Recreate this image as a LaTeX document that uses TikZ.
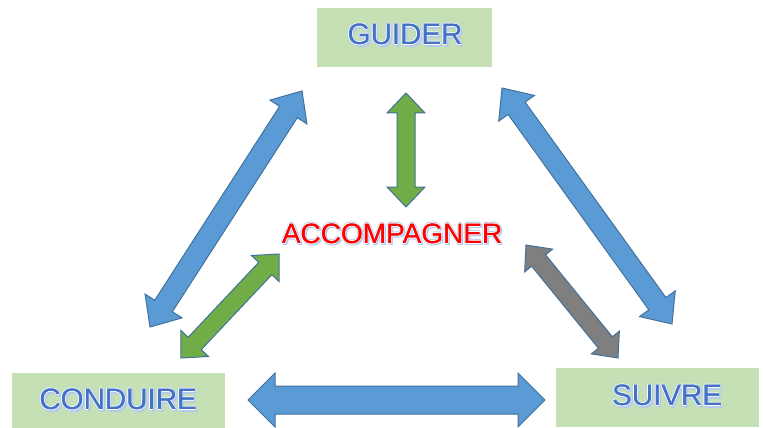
\documentclass[tikz,border=0pt]{standalone}
\usepackage{fontspec}
\setmainfont{Liberation Sans}
\usetikzlibrary{calc}

\definecolor{boxgreen}{HTML}{C5E0B4}
\definecolor{arrowblue}{HTML}{5B9BD5}
\definecolor{arrowgreen}{HTML}{70AD47}
\definecolor{arrowgray}{HTML}{7F7F7F}
\definecolor{edgeblue}{HTML}{41719C}
\definecolor{wordblue}{HTML}{4472C4}
\definecolor{glowblue}{HTML}{B4CBEE}
\definecolor{wordred}{HTML}{FF0000}

% one shifted copy of a word, used to build the halo
\newcommand\wcopy[4]{\rlap{\kern#1\raisebox{#2}{\color{#3}#4}}}

% Word art: soft blue halo, thin white rim, slightly heavy coloured letters
\newcommand\wordart[2]{\leavevmode
  \wcopy{2.2pt}{-2.2pt}{glowblue}{#2}%
  \wcopy{2pt}{0pt}{glowblue}{#2}%
  \wcopy{0pt}{-2pt}{glowblue}{#2}%
  \wcopy{-1.5pt}{0pt}{glowblue}{#2}%
  \wcopy{0pt}{1.5pt}{glowblue}{#2}%
  \wcopy{1pt}{0pt}{white}{#2}%
  \wcopy{-1pt}{0pt}{white}{#2}%
  \wcopy{0pt}{1pt}{white}{#2}%
  \wcopy{0pt}{-1pt}{white}{#2}%
  \wcopy{0.35pt}{0pt}{#1}{#2}%
  {\color{#1}#2}}

% Double-headed block arrow between two tips
% #1 style, #2 tip A, #3 tip B, #4 head length, #5 head half width, #6 shaft half width
\newcommand\blockarrow[6]{%
  \draw[#1] (#2)
    -- ($(#2)!#4!(#3)!#5!90:(#3)$)
    -- ($(#2)!#4!(#3)!#6!90:(#3)$)
    -- ($(#3)!#4!(#2)!#6!-90:(#2)$)
    -- ($(#3)!#4!(#2)!#5!-90:(#2)$)
    -- (#3)
    -- ($(#3)!#4!(#2)!#5!90:(#2)$)
    -- ($(#3)!#4!(#2)!#6!90:(#2)$)
    -- ($(#2)!#4!(#3)!#6!-90:(#3)$)
    -- ($(#2)!#4!(#3)!#5!-90:(#3)$)
    -- cycle;}

\tikzset{
  panel/.style={fill=boxgreen, draw=none, inner sep=0pt},
  bluetext/.style={inner sep=0pt, font=\fontsize{29.5}{29.5}\selectfont},
  redtext/.style={inner sep=0pt, font=\fontsize{28}{28}\selectfont},
  blockbase/.style={draw=edgeblue, line width=1pt, line join=miter},
  blueblock/.style={blockbase, fill=arrowblue},
  greenblock/.style={blockbase, fill=arrowgreen},
  grayblock/.style={blockbase, fill=arrowgray},
}

\begin{document}
\begin{tikzpicture}[x=1pt, y=-1pt]
\useasboundingbox (0,0) rectangle (764,428);

% panels
\path[panel] (317,8) rectangle (492,67);
\path[panel] (12,373) rectangle (225,428);
\path[panel] (556,368) rectangle (759,427);

% labels
\node[bluetext] (guider) at (405,35) {\wordart{wordblue}{GUIDER}};
\node[bluetext] (conduire) at (118,400) {\wordart{wordblue}{CONDUIRE}};
\node[bluetext] (suivre) at (667,396) {\wordart{wordblue}{SUIVRE}};
\node[redtext] (accomp) at (392,234) {\wordart{wordred}{ACCOMPAGNER}};

% arrow tips
\coordinate (lt) at (302,91);
\coordinate (lb) at (150,327);
\coordinate (rt) at (502,88);
\coordinate (rb) at (672,324);
\coordinate (hl) at (248,400);
\coordinate (hr) at (545,400);
\coordinate (vt) at (406,93);
\coordinate (vb) at (406,207);
\coordinate (gt) at (279,254);
\coordinate (gb) at (181,358);
\coordinate (kt) at (526,245);
\coordinate (kb) at (618,358);

% outer triangle of arrows
\blockarrow{blueblock}{lt}{lb}{25pt}{22pt}{10.5pt}
\blockarrow{blueblock}{rt}{rb}{25pt}{22pt}{10.5pt}
\blockarrow{blueblock}{hl}{hr}{27pt}{27pt}{14pt}

% inner arrows towards the centre
\blockarrow{greenblock}{vt}{vb}{20pt}{19pt}{9pt}
\blockarrow{greenblock}{gt}{gb}{20pt}{19pt}{9pt}
\blockarrow{grayblock}{kt}{kb}{20pt}{18pt}{9pt}
\end{tikzpicture}
\end{document}
